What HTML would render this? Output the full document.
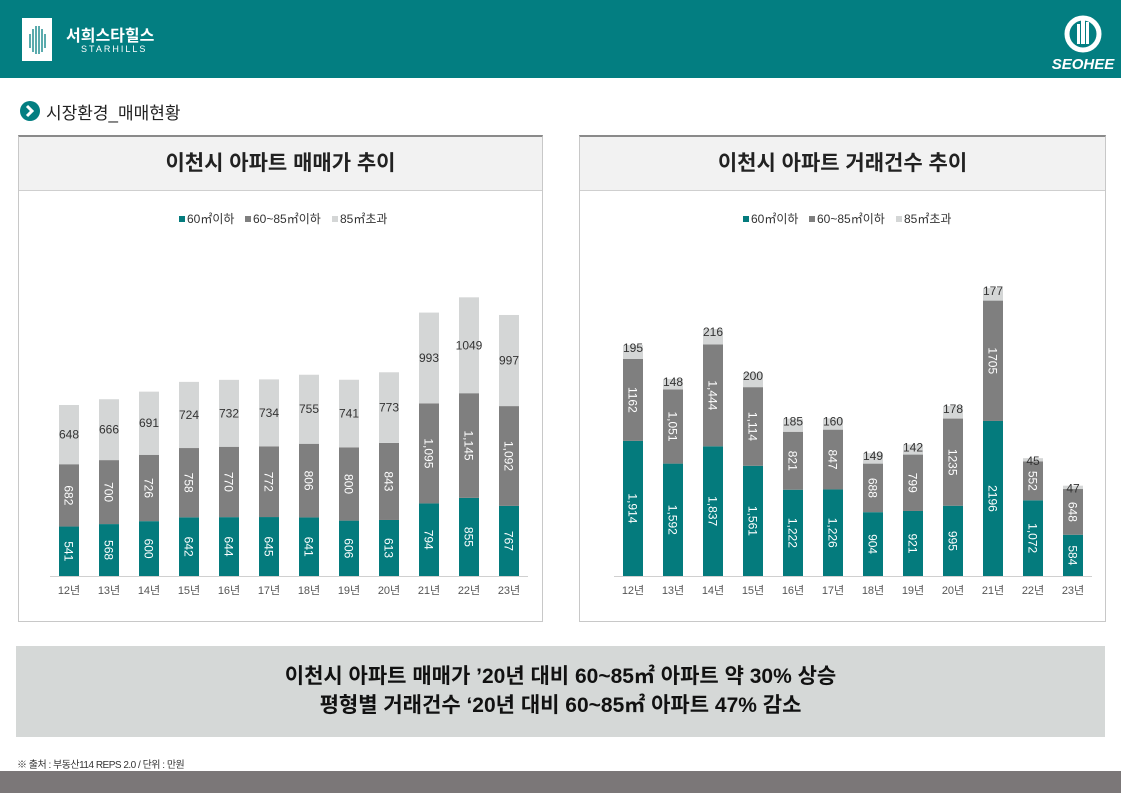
<!DOCTYPE html>
<html><head><meta charset="utf-8"><style>
*{margin:0;padding:0;box-sizing:border-box}
body{width:1121px;height:793px;position:relative;background:#fff;font-family:"Liberation Sans","Noto Sans CJK KR",sans-serif;overflow:hidden}
.hdr{position:absolute;left:0;top:0;width:1121px;height:78px;background:#037e81}
.panel{position:absolute;top:135px;height:487px;border:1px solid #c8c8c8;border-top:2px solid #8a8a8a;background:#fff}
.ptitle{height:54px;background:#f2f2f2;border-bottom:1px solid #cfcfcf;text-align:center;line-height:54px;font-size:21px;font-weight:bold;color:#222}
.sum{position:absolute;left:16px;top:646px;width:1089px;height:91px;background:#d5d8d7;text-align:center;font-size:21px;font-weight:bold;color:#111;padding-top:16px;line-height:29px}
.foot{position:absolute;left:0;top:771px;width:1121px;height:22px;background:#7b7778}
svg text{font-family:"Liberation Sans","Noto Sans CJK KR",sans-serif}
</style></head><body>
<div class="hdr">
 <div style="position:absolute;left:22px;top:18px;width:30px;height:43px;background:#fff"></div>
 <svg style="position:absolute;left:22px;top:18px" width="30" height="43"><g stroke="#037e81" stroke-width="1.3"><line x1="8" y1="16" x2="8" y2="30"/><line x1="11" y1="11" x2="11" y2="34"/><line x1="14" y1="8" x2="14" y2="36"/><line x1="17" y1="8" x2="17" y2="36"/><line x1="20" y1="11" x2="20" y2="34"/><line x1="23" y1="16" x2="23" y2="30"/></g></svg>
 <div style="position:absolute;left:66px;top:22px;color:#fff;font-size:16px;font-weight:bold">서희스타힐스</div>
 <div style="position:absolute;left:81px;top:44px;color:#fff;font-size:9px;letter-spacing:2px;font-family:'Liberation Sans',sans-serif">STARHILLS</div>
 <svg style="position:absolute;left:1050px;top:8px" width="66" height="66"><circle cx="33" cy="26" r="16" fill="none" stroke="#fff" stroke-width="5"/><rect x="27" y="16" width="3" height="20" fill="#fff"/><rect x="31" y="12" width="4" height="24" fill="#fff"/><rect x="36" y="14" width="3" height="22" fill="#fff"/><text x="33" y="61" fill="#fff" font-size="15" font-weight="bold" font-style="italic" text-anchor="middle">SEOHEE</text></svg>
</div>
<svg style="position:absolute;left:19px;top:100px" width="22" height="22"><circle cx="11" cy="11" r="10" fill="#037e81"/><path d="M8 6 L13 11 L8 16" stroke="#fff" stroke-width="3" fill="none"/></svg>
<div style="position:absolute;left:46px;top:99px;font-size:17px;color:#222">시장환경_매매현황</div>
<div class="panel" style="left:18px;width:525px"><div class="ptitle">이천시 아파트 매매가 추이</div></div>
<div class="panel" style="left:579px;width:527px"><div class="ptitle">이천시 아파트 거래건수 추이</div></div>
<svg id="c" style="position:absolute;left:0;top:0" width="1121" height="793"></svg>
<div class="sum">이천시 아파트 매매가 ’20년 대비 60~85㎡ 아파트 약 30% 상승<br>평형별 거래건수 ‘20년 대비 60~85㎡ 아파트 47% 감소</div>
<div style="position:absolute;left:17px;top:756px;font-size:10px;color:#333;letter-spacing:-0.5px">※ 출처 : 부동산114 REPS 2.0 / 단위 : 만원</div>
<div class="foot"></div>
<script>
var s='',C=['#047b7d','#7f7f7f','#d4d6d6'];
function chart(x0,scale,data,fmt,topLbl){
 var lx=x0+110;
 s+='<line x1="'+(x0-19)+'" y1="576.5" x2="'+(x0+459)+'" y2="576.5" stroke="#d0d0d0"/>';
 for(var i=0;i<12;i++){
  var cx=x0+i*40,y=576,d=data[i];
  for(var k=0;k<3;k++){
   var h=d[k]*scale;y-=h;
   s+='<rect x="'+(cx-10)+'" y="'+y+'" width="20" height="'+h+'" fill="'+C[k]+'"/>';
   var t=fmt[i][k];
   if(k<2){s+='<text transform="translate('+(cx-4.5)+','+(y+h/2)+') rotate(90)" fill="#fff" font-size="12" text-anchor="middle">'+t+'</text>';}
   else{var ty=topLbl?y+7:y+h/2+4;s+='<text x="'+cx+'" y="'+ty+'" fill="#333" font-size="12" text-anchor="middle">'+t+'</text>';}
  }
  s+='<text x="'+cx+'" y="594" fill="#555" font-size="11" text-anchor="middle">'+(12+i)+'년</text>';
 }
 s+='<rect x="'+(lx)+'" y="216" width="6" height="6" fill="'+C[0]+'"/><text x="'+(lx+8)+'" y="223" font-size="12" fill="#333">60㎡이하</text>';
 s+='<rect x="'+(lx+66)+'" y="216" width="6" height="6" fill="'+C[1]+'"/><text x="'+(lx+74)+'" y="223" font-size="12" fill="#333">60~85㎡이하</text>';
 s+='<rect x="'+(lx+153)+'" y="216" width="6" height="6" fill="'+C[2]+'"/><text x="'+(lx+161)+'" y="223" font-size="12" fill="#333">85㎡초과</text>';
}
var L=[[541,682,648],[568,700,666],[600,726,691],[642,758,724],[644,770,732],[645,772,734],[641,806,755],[606,800,741],[613,843,773],[794,1095,993],[855,1145,1049],[767,1092,997]];
var LF=L.map(function(r){return r.map(function(v,k){return (k==1&&v>=1000)?String(v).replace(/(\d)(\d{3})$/,'$1,$2'):String(v)})});
chart(69,0.0914,L,LF,false);
var R=[[1914,1162,195],[1592,1051,148],[1837,1444,216],[1561,1114,200],[1222,821,185],[1226,847,160],[904,688,149],[921,799,142],[995,1235,178],[2196,1705,177],[1072,552,45],[584,648,47]];
var RF=[["1,914","1162","195"],["1,592","1,051","148"],["1,837","1,444","216"],["1,561","1,114","200"],["1,222","821","185"],["1,226","847","160"],["904","688","149"],["921","799","142"],["995","1235","178"],["2196","1705","177"],["1,072","552","45"],["584","648","47"]];
chart(633,0.0706,R,RF,true);
document.getElementById('c').innerHTML=s;
</script>
</body></html>
